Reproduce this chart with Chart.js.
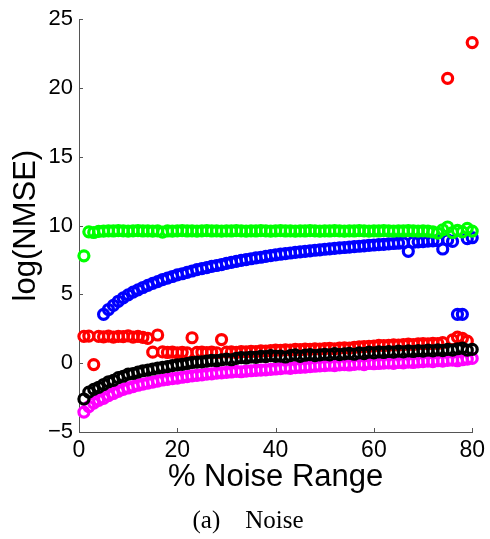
<!DOCTYPE html>
<html>
<head>
<meta charset="utf-8">
<script src="https://cdn.jsdelivr.net/npm/chart.js@4/dist/chart.umd.min.js"></script>
<style>
  html, body { margin: 0; padding: 0; background: #fff; }
  canvas { display: block; }
</style>
</head>
<body>
<canvas id="noiseChart" width="490" height="539"></canvas>
<script>
// % noise range on the x axis
var noise = [1, 2, 3, 4, 5, 6, 7, 8, 9, 10, 11, 12, 13, 14, 15, 16, 17, 18, 19, 20,
  21, 22, 23, 24, 25, 26, 27, 28, 29, 30, 31, 32, 33, 34, 35, 36, 37, 38, 39, 40,
  41, 42, 43, 44, 45, 46, 47, 48, 49, 50, 51, 52, 53, 54, 55, 56, 57, 58, 59, 60,
  61, 62, 63, 64, 65, 66, 67, 68, 69, 70, 71, 72, 73, 74, 75, 76, 77, 78, 79, 80];

// log(NMSE) per method
var greenSeries = [7.8, 9.55, 9.5, 9.58, 9.6, 9.62, 9.61, 9.63, 9.62, 9.6,
  9.62, 9.63, 9.61, 9.62, 9.6, 9.62, 9.52, 9.61, 9.6, 9.62,
  9.63, 9.61, 9.62, 9.6, 9.62, 9.63, 9.61, 9.62, 9.6, 9.62,
  9.61, 9.63, 9.62, 9.6, 9.62, 9.61, 9.63, 9.62, 9.6, 9.62,
  9.63, 9.61, 9.62, 9.6, 9.62, 9.61, 9.63, 9.62, 9.6, 9.62,
  9.61, 9.63, 9.62, 9.6, 9.62, 9.61, 9.63, 9.62, 9.6, 9.62,
  9.61, 9.63, 9.62, 9.6, 9.62, 9.61, 9.63, 9.62, 9.6, 9.62,
  9.6, 9.55, 9.45, 9.7, 9.9, 9.5, 9.65, 9.55, 9.8, 9.6];

var blueSeries = [null, null, null, null, 3.55, 3.9, 4.2, 4.5, 4.75, 4.97,
  5.17, 5.33, 5.5, 5.65, 5.8, 5.93, 6.08, 6.18, 6.3, 6.42,
  6.5, 6.6, 6.7, 6.8, 6.87, 6.95, 7.04, 7.1, 7.17, 7.26,
  7.33, 7.4, 7.47, 7.53, 7.59, 7.65, 7.7, 7.76, 7.82, 7.87,
  7.92, 7.96, 8.01, 8.05, 8.09, 8.13, 8.17, 8.21, 8.24, 8.28,
  8.31, 8.35, 8.38, 8.41, 8.44, 8.47, 8.5, 8.53, 8.56, 8.59,
  8.62, 8.64, 8.67, 8.7, 8.72, 8.75, 8.13, 8.79, 8.82, 8.84,
  8.87, 8.89, 8.91, 8.3, 8.96, 8.85, 3.55, 3.55, 9.05, 9.12];

var redSeries = [1.95, 1.97, -0.1, 1.95, 1.92, 1.97, 1.9, 1.95, 1.93, 1.98,
  1.9, 1.95, 1.88, 1.8, 0.8, 2.05, 0.82, 0.78, 0.8, 0.76,
  0.79, 0.75, 1.85, 0.78, 0.8, 0.77, 0.8, 0.76, 1.72, 0.8,
  0.82, 0.78, 0.85, 0.83, 0.87, 0.85, 0.9, 0.88, 0.92, 0.95,
  0.93, 0.97, 0.96, 1.0, 0.98, 1.02, 1.0, 1.05, 1.03, 1.06,
  1.08, 1.05, 1.1, 1.12, 1.1, 1.15, 1.18, 1.2, 1.22, 1.25,
  1.3, 1.28, 1.3, 1.33, 1.32, 1.35, 1.38, 1.36, 1.4, 1.42,
  1.4, 1.45, 1.43, 1.5, 20.7, 1.7, 1.9, 1.8, 1.6, 23.3];

var blackSeries = [-2.6, -2.1, -1.9, -1.75, -1.55, -1.35, -1.25, -1.05, -0.95, -0.8,
  -0.75, -0.65, -0.55, -0.5, -0.42, -0.35, -0.3, -0.25, -0.18, -0.12,
  -0.08, -0.02, 0.05, 0.08, 0.1, 0.15, 0.2, 0.18, 0.25, 0.3,
  0.25, 0.35, 0.4, 0.38, 0.45, 0.42, 0.5, 0.48, 0.55, 0.5,
  0.52, 0.45, 0.55, 0.6, 0.5, 0.58, 0.62, 0.55, 0.6, 0.65,
  0.6, 0.7, 0.62, 0.68, 0.72, 0.65, 0.75, 0.7, 0.8, 0.75,
  0.82, 0.78, 0.85, 0.8, 0.88, 0.83, 0.9, 0.85, 0.92, 0.88,
  0.95, 0.9, 0.97, 0.92, 1.0, 0.95, 1.05, 1.1, 0.95, 1.0];

var magentaSeries = [-3.55, -3.15, -2.9, -2.7, -2.55, -2.35, -2.2, -2.05, -1.9, -1.8,
  -1.7, -1.6, -1.52, -1.45, -1.38, -1.3, -1.22, -1.18, -1.12, -1.08,
  -1.02, -0.97, -0.92, -0.88, -0.85, -0.8, -0.77, -0.72, -0.7, -0.66,
  -0.64, -0.6, -0.62, -0.57, -0.55, -0.52, -0.5, -0.48, -0.45, -0.42,
  -0.4, -0.35, -0.38, -0.32, -0.3, -0.28, -0.25, -0.22, -0.2, -0.18,
  -0.15, -0.18, -0.12, -0.1, -0.13, -0.08, -0.05, -0.1, -0.02, -0.04,
  -0.02, 0.0, 0.02, -0.01, 0.05, 0.03, 0.08, 0.05, 0.1, 0.12,
  0.15, 0.12, 0.18, 0.15, 0.2, 0.22, 0.18, 0.25, 0.3, 0.35];

var xTicks = [0, 20, 40, 60, 80];
var yTicks = [-5, 0, 5, 10, 15, 20, 25];

function toPoints(values) {
  var pts = [];
  for (var i = 0; i < noise.length; i++) {
    if (values[i] !== null) pts.push({ x: noise[i], y: values[i] });
  }
  return pts;
}

// open circle markers, no fill
function series(values, color, order) {
  return {
    data: toPoints(values),
    showLine: false,
    pointStyle: 'circle',
    pointRadius: 5,
    pointHoverRadius: 5,
    pointBorderWidth: 3.2,
    pointBorderColor: color,
    pointBackgroundColor: 'rgba(0,0,0,0)',
    borderColor: color,
    clip: false,
    order: order
  };
}

var axisColor = '#555';

// short tick marks pointing into the plot
var innerTicks = {
  id: 'innerTicks',
  afterDraw: function (chart) {
    var ctx = chart.ctx;
    var xs = chart.scales.x, ys = chart.scales.y;
    var area = chart.chartArea;
    ctx.save();
    ctx.strokeStyle = axisColor;
    ctx.lineWidth = 1;
    ctx.beginPath();
    xTicks.forEach(function (v) {
      var px = Math.round(xs.getPixelForValue(v)) + 0.5;
      ctx.moveTo(px, area.bottom);
      ctx.lineTo(px, area.bottom - 4);
    });
    yTicks.forEach(function (v) {
      var py = Math.round(ys.getPixelForValue(v)) + 0.5;
      ctx.moveTo(area.left, py);
      ctx.lineTo(area.left + 4, py);
    });
    ctx.stroke();
    ctx.restore();
  }
};

// sub-figure caption under the axis title
var caption = {
  id: 'caption',
  afterDraw: function (chart) {
    var ctx = chart.ctx;
    ctx.save();
    ctx.fillStyle = '#000';
    ctx.font = '25px "Liberation Serif", "DejaVu Serif", serif';
    ctx.textAlign = 'center';
    ctx.textBaseline = 'middle';
    ctx.fillText('(a)    Noise', 248, 521);
    ctx.restore();
  }
};

var ctx = document.getElementById('noiseChart').getContext('2d');
var noiseChart = new Chart(ctx, {
  type: 'scatter',
  data: {
    datasets: [
      series(greenSeries, '#00ff00', 3),
      series(blueSeries, '#0000ff', 4),
      series(redSeries, '#ff0000', 1),
      series(magentaSeries, '#ff00ff', 2),
      series(blackSeries, '#000000', 0)
    ]
  },
  options: {
    responsive: false,
    animation: false,
    devicePixelRatio: 1,
    layout: { padding: { left: 0, right: 16, top: 16, bottom: 32 } },
    plugins: {
      legend: { display: false },
      tooltip: { enabled: false }
    },
    scales: {
      x: {
        type: 'linear',
        min: 0,
        max: 80,
        afterBuildTicks: function (scale) {
          scale.ticks = xTicks.map(function (v) { return { value: v }; });
        },
        afterFit: function (scale) { scale.height = 75; },
        grid: { display: false, drawTicks: false },
        border: { display: true, color: axisColor, width: 1 },
        ticks: {
          padding: 5,
          color: '#000',
          maxRotation: 0,
          font: { family: '"Liberation Sans", Arial, sans-serif', size: 23 }
        },
        title: {
          display: true,
          text: '% Noise Range',
          color: '#000',
          font: { family: '"Liberation Sans", Arial, sans-serif', size: 31 },
          padding: { top: 0, bottom: 11 }
        }
      },
      y: {
        type: 'linear',
        min: -5,
        max: 25,
        afterBuildTicks: function (scale) {
          scale.ticks = yTicks.map(function (v) { return { value: v }; });
        },
        afterFit: function (scale) { scale.width = 79; },
        grid: { display: false, drawTicks: false },
        border: { display: true, color: axisColor, width: 1 },
        ticks: {
          padding: 6,
          color: '#000',
          font: { family: '"Liberation Sans", Arial, sans-serif', size: 22 },
          callback: function (v) { return String(v).replace('-', '\u2212'); }
        },
        title: {
          display: true,
          text: 'log(NMSE)',
          color: '#000',
          font: { family: '"Liberation Sans", Arial, sans-serif', size: 31 },
          padding: { top: 8, bottom: 0 }
        }
      }
    }
  },
  plugins: [innerTicks, caption]
});
</script>
</body>
</html>
